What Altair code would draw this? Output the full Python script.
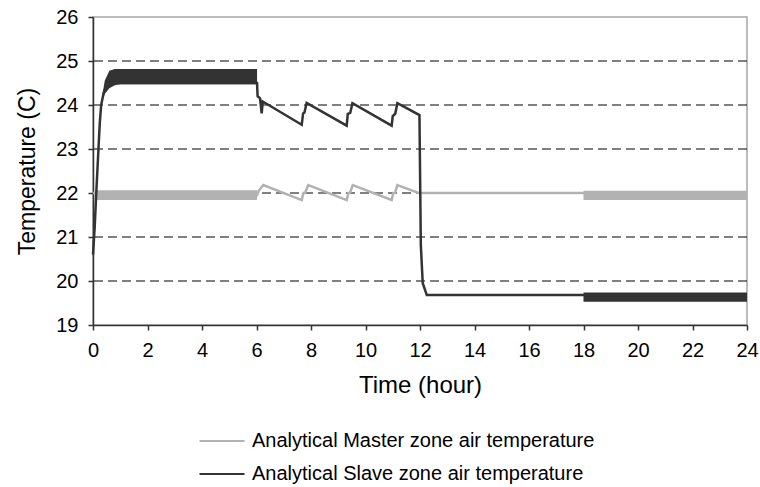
import altair as alt
import pandas as pd

MASTER = "Analytical Master zone air temperature"
SLAVE = "Analytical Slave zone air temperature"
MASTER_COLOR = "#b2b2b2"
SLAVE_COLOR = "#333333"
FONT = "Liberation Sans"

# Master zone air temperature (hour, deg C)
master_hours = [0.0, 6.02, 6.08, 6.25, 7.66, 7.72, 7.78, 7.90, 9.31, 9.37, 9.43, 9.53,
                10.96, 11.02, 11.08, 11.17, 11.95, 24.0]
master_temps = [22.0, 21.95, 22.05, 22.18, 21.84, 22.0, 22.0, 22.18, 21.84, 22.0, 22.0, 22.18,
                21.84, 22.0, 22.0, 22.18, 22.0, 22.0]

# Slave zone air temperature (hour, deg C)
slave_hours = [0.0, 0.06, 0.12, 0.20, 0.25, 0.30, 0.40, 0.50, 0.70, 1.0, 6.02, 6.04, 6.13,
               6.19, 6.23, 7.66, 7.71, 7.76, 7.84, 9.31, 9.35, 9.44, 9.52, 10.96, 11.00,
               11.09, 11.17, 11.98, 12.03, 12.10, 12.25, 18.0, 24.0]
slave_temps = [20.6, 21.2, 22.0, 23.0, 23.6, 24.0, 24.3, 24.45, 24.5, 24.5, 24.5, 24.2, 24.15,
               23.81, 24.08, 23.55, 23.81, 23.83, 24.05, 23.53, 23.80, 23.82, 24.04, 23.53, 23.75,
               23.80, 24.04, 23.77, 20.82, 19.95, 19.68, 19.68, 19.68]

# Envelopes of the fast on/off cycling periods (hour, low, high)
master_band_id = ["m1", "m1", "m2", "m2"]
master_band_hours = [0.12, 6.02, 18.0, 24.0]
master_band_low = [21.84, 21.84, 21.84, 21.84]
master_band_high = [22.06, 22.06, 22.05, 22.05]

slave_band_id = ["s1", "s1", "s1", "s1", "s1", "s1", "s2", "s2"]
slave_band_hours = [0.30, 0.43, 0.60, 0.80, 1.0, 6.02, 18.0, 24.0]
slave_band_low = [24.0, 24.25, 24.38, 24.45, 24.47, 24.47, 19.53, 19.53]
slave_band_high = [24.05, 24.55, 24.78, 24.82, 24.82, 24.82, 19.74, 19.74]

grid_levels = [20, 21, 22, 23, 24, 25]
x_ticks = list(range(0, 25, 2))
y_ticks = list(range(19, 27))

master_df = pd.DataFrame({"hour": master_hours, "temp": master_temps, "series": MASTER})
master_df["step"] = range(len(master_df))
slave_df = pd.DataFrame({"hour": slave_hours, "temp": slave_temps, "series": SLAVE})
slave_df["step"] = range(len(slave_df))

master_band_df = pd.DataFrame({"band": master_band_id, "hour": master_band_hours,
                               "low": master_band_low, "high": master_band_high})
slave_band_df = pd.DataFrame({"band": slave_band_id, "hour": slave_band_hours,
                              "low": slave_band_low, "high": slave_band_high})
grid_df = pd.DataFrame({"level": grid_levels})

x_scale = alt.Scale(domain=[0, 24], nice=False)
y_scale = alt.Scale(domain=[19, 26], nice=False, zero=False)
color_scale = alt.Scale(domain=[MASTER, SLAVE], range=[MASTER_COLOR, SLAVE_COLOR])

x_enc = alt.X("hour:Q", scale=x_scale,
              axis=alt.Axis(values=x_ticks, title="Time (hour)", grid=False))
y_enc = alt.Y("temp:Q", scale=y_scale,
              axis=alt.Axis(values=y_ticks, title="Temperature (C)", grid=False))

grid = alt.Chart(grid_df).mark_rule(color="black", strokeWidth=1, strokeDash=[9, 5]).encode(
    y=alt.Y("level:Q", scale=y_scale)
)


def band_layer(df, color):
    return alt.Chart(df).mark_area(color=color, opacity=1, interpolate="linear").encode(
        x=alt.X("hour:Q", scale=x_scale),
        y=alt.Y("low:Q", scale=y_scale),
        y2="high:Q",
        detail="band:N",
    )


def line_layer(df):
    return alt.Chart(df).mark_line(strokeWidth=2.5, strokeJoin="miter").encode(
        x=x_enc,
        y=y_enc,
        order="step:Q",
        color=alt.Color(
            "series:N",
            scale=color_scale,
            legend=alt.Legend(
                title=None,
                orient="none",
                legendX=119,
                legendY=414,
                symbolType="M-2.5,0H2.5",
                symbolSize=324,
                symbolStrokeWidth=2,
                labelOffset=20,
                labelFontSize=20,
                labelFont=FONT,
                labelColor="black",
                labelLimit=0,
                rowPadding=13,
                padding=0,
            ),
        ),
    )


chart = alt.layer(
    grid,
    band_layer(master_band_df, MASTER_COLOR),
    line_layer(master_df),
    band_layer(slave_band_df, SLAVE_COLOR),
    line_layer(slave_df),
).properties(
    width=654,
    height=308,
    autosize="none",
    padding={"left": 93, "top": 17, "right": 13, "bottom": 162},
).configure_view(
    stroke="#a6a6a6", strokeWidth=1.5
).configure_axis(
    domainColor="#333333",
    domainWidth=1.5,
    tickColor="#333333",
    tickWidth=1.5,
    tickSize=5,
    labelFont=FONT,
    labelFontSize=20,
    labelColor="black",
    labelPadding=10,
    titleFont=FONT,
    titleFontWeight="normal",
    titleColor="black",
    labelFlush=False,
).configure_axisX(
    titleFontSize=24,
    titlePadding=13,
).configure_axisY(
    titleFontSize=23,
    titlePadding=16,
)

chart.save("out.html", embed_options={"renderer": "svg", "actions": False})
